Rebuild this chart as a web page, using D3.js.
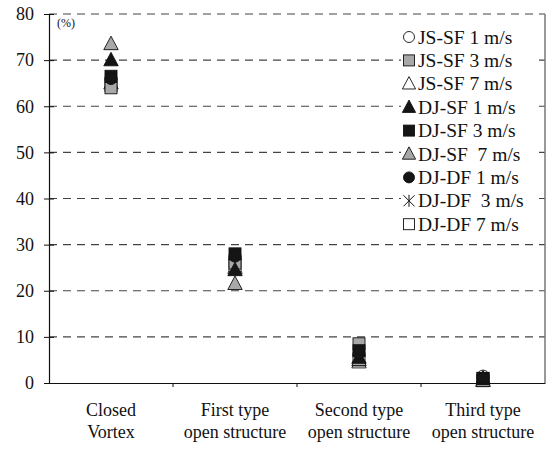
<!DOCTYPE html>
<html>
<head>
<meta charset="utf-8">
<script src="https://cdn.jsdelivr.net/npm/d3@7"></script>
<style>
  body { margin: 0; background: #fff; }
  svg text { font-family: "Liberation Serif", "DejaVu Serif", serif; fill: #111; }
</style>
</head>
<body>
<svg id="chart" width="549" height="450"></svg>
<script>
// Categories (two-line labels)
const categories = ['Closed|Vortex', 'First type|open structure', 'Second type|open structure', 'Third type|open structure'];
const yTickValues = [0, 10, 20, 30, 40, 50, 60, 70, 80];

// Series: values per category (%)
const seriesNames = ['JS-SF 1 m/s', 'JS-SF 3 m/s', 'JS-SF 7 m/s', 'DJ-SF 1 m/s', 'DJ-SF 3 m/s', 'DJ-SF  7 m/s', 'DJ-DF 1 m/s', 'DJ-DF  3 m/s', 'DJ-DF 7 m/s'];
const jsSf1 = [66.0, 27.0, 6.0, 1.5];
const jsSf3 = [64.0, 26.0, 8.5, 1.0];
const jsSf7 = [65.0, 25.0, 4.5, 0.5];
const djSf1 = [70.0, 24.5, 5.5, 1.0];
const djSf3 = [66.5, 28.0, 7.0, 1.0];
const djSf7 = [73.5, 21.5, 5.0, 0.5];
const djDf1 = [66.0, 27.5, 6.5, 1.0];
const djDf3 = [65.5, 26.5, 6.0, 1.0];
const djDf7 = [64.5, 25.5, 5.0, 0.5];

const GRAY = '#a8a8a8', BLACK = '#151515', WHITE = '#fff';
const series = [
  { name: seriesNames[0], values: jsSf1, shape: 'circle',   fill: WHITE, z: 0 },
  { name: seriesNames[1], values: jsSf3, shape: 'square',   fill: GRAY,  z: 1 },
  { name: seriesNames[2], values: jsSf7, shape: 'triangle', fill: WHITE, z: 0 },
  { name: seriesNames[3], values: djSf1, shape: 'triangle', fill: BLACK, z: 2 },
  { name: seriesNames[4], values: djSf3, shape: 'square',   fill: BLACK, z: 2 },
  { name: seriesNames[5], values: djSf7, shape: 'triangle', fill: GRAY,  z: 1 },
  { name: seriesNames[6], values: djDf1, shape: 'circle',   fill: BLACK, z: 2 },
  { name: seriesNames[7], values: djDf3, shape: 'cross',    fill: 'none', z: 0 },
  { name: seriesNames[8], values: djDf7, shape: 'square',   fill: WHITE, z: 0 },
];

const margin = { top: 14, right: 4, bottom: 67, left: 49 };
const W = 549 - margin.left - margin.right;
const H = 450 - margin.top - margin.bottom;
const FS = 18;

const svg = d3.select('#chart');
const g = svg.append('g').attr('transform', `translate(${margin.left},${margin.top})`);

const x = d3.scaleBand().domain(categories).range([0, W]).padding(0);
const y = d3.scaleLinear().domain([0, 80]).range([H, 0]);

// Grid
g.append('g').selectAll('line')
  .data(yTickValues.filter(v => v > 0))
  .join('line')
  .attr('x1', 0).attr('x2', W)
  .attr('y1', d => y(d)).attr('y2', d => y(d))
  .attr('stroke', '#444').attr('stroke-width', 1.2)
  .attr('stroke-dasharray', '8,6');

// Right border
g.append('line')
  .attr('x1', W).attr('x2', W).attr('y1', 0).attr('y2', H)
  .attr('stroke', '#777').attr('stroke-width', 1.5);

// Y axis
const yAxis = g.append('g')
  .call(d3.axisLeft(y).tickValues(yTickValues).tickSize(5).tickSizeOuter(0).tickPadding(10));
yAxis.select('.domain').attr('stroke', '#111').attr('stroke-width', 1.2);
yAxis.selectAll('.tick line').attr('stroke', '#111').attr('x2', 5).attr('x1', -5);
yAxis.selectAll('text').attr('font-size', FS).attr('font-family', '"Liberation Serif", serif');

// X axis
const xAxis = g.append('g').attr('transform', `translate(0,${H})`)
  .call(d3.axisBottom(x).tickSize(0).tickFormat(''));
xAxis.select('.domain').attr('stroke', '#111').attr('stroke-width', 1.2);
g.append('g').selectAll('line')
  .data(categories.slice(1))
  .join('line')
  .attr('x1', d => x(d)).attr('x2', d => x(d))
  .attr('y1', H).attr('y2', H + 4)
  .attr('stroke', '#111');

const xLabels = g.append('g').selectAll('text')
  .data(categories)
  .join('text')
  .attr('x', d => x(d) + x.bandwidth() / 2)
  .attr('y', H + 33)
  .attr('text-anchor', 'middle')
  .attr('font-size', FS);
xLabels.each(function(d) {
  const parts = d.split('|');
  d3.select(this).selectAll('tspan')
    .data(parts)
    .join('tspan')
    .attr('x', x(d) + x.bandwidth() / 2)
    .attr('dy', (p, i) => i === 0 ? 0 : 22)
    .text(p => p);
});

// Unit label
g.append('text').attr('x', 8).attr('y', 13).attr('font-size', 12).text('(%)');

// Markers
function drawMarker(sel, shape, fill, size) {
  const s = size;
  if (shape === 'circle') {
    sel.append('circle').attr('r', s / 2)
      .attr('fill', fill).attr('stroke', '#111').attr('stroke-width', 0.9);
  } else if (shape === 'square') {
    sel.append('rect').attr('x', -s / 2).attr('y', -s / 2).attr('width', s).attr('height', s)
      .attr('fill', fill).attr('stroke', '#111').attr('stroke-width', 0.9);
  } else if (shape === 'triangle') {
    const h = s * 1.05;
    sel.append('path')
      .attr('d', `M0,${-h * 0.62}L${s * 0.6},${h * 0.45}L${-s * 0.6},${h * 0.45}Z`)
      .attr('fill', fill).attr('stroke', '#111').attr('stroke-width', 0.9);
  } else if (shape === 'cross') {
    const r = s / 2;
    sel.append('path')
      .attr('d', `M${-r},${-r}L${r},${r}M${-r},${r}L${r},${-r}M0,${-r * 1.1}L0,${r * 1.1}`)
      .attr('stroke', '#111').attr('stroke-width', 1).attr('fill', 'none');
  }
}

// open markers below, gray in the middle, black on top
const pts = g.append('g');
series.slice().sort((a, b) => a.z - b.z).forEach(s => {
  s.values.forEach((v, i) => {
    const m = pts.append('g')
      .attr('transform', `translate(${x(categories[i]) + x.bandwidth() / 2},${y(v)})`);
    drawMarker(m, s.shape, s.fill, 12);
  });
});

// Legend
const legend = g.append('g').attr('transform', `translate(${409 - margin.left},${37 - margin.top})`);
series.forEach((s, i) => {
  const row = legend.append('g').attr('transform', `translate(0,${i * 23.4})`);
  row.append('rect').attr('x', -8).attr('y', -11).attr('width', 134).attr('height', 22).attr('fill', '#fff');
  drawMarker(row.append('g'), s.shape, s.fill, 11);
  row.append('text').attr('x', 9).attr('y', 6.5).attr('font-size', 19.5)
    .attr('xml:space', 'preserve').style('white-space', 'pre').text(s.name);
});
</script>
</body>
</html>
